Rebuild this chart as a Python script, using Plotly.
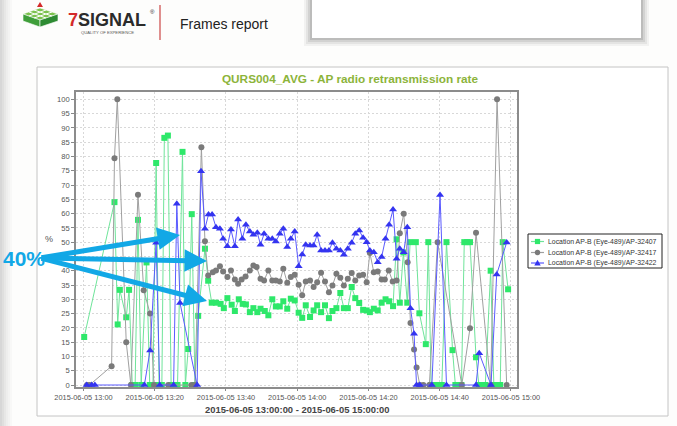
import plotly.graph_objects as go
from datetime import datetime, timedelta

# ---------------- data (minutes after 13:00, retransmission %) ----------------
START = datetime(2015, 6, 5, 13, 0, 0)
SERIES_NAMES = ["Location AP-B (Eye-489)/AP-32407",
                "Location AP-B (Eye-489)/AP-32417",
                "Location AP-B (Eye-489)/AP-32422"]

G_MIN = [0.2, 8.7, 9.6, 10.2, 12.0, 12.8, 13.7, 14.5, 15.3, 16.2, 17.7, 18.6, 19.5, 20.4, 21.2,
         22.0, 22.7, 23.7, 24.6, 25.5, 26.4, 27.8, 28.6, 29.4, 30.4, 31.3, 32.2, 34.1, 35.0, 36.0,
         37.2, 38.5, 39.4, 40.4, 41.6, 42.5, 43.6, 44.7, 45.6, 46.7, 47.7, 48.8, 49.7, 50.9, 51.9,
         53.0, 54.0, 55.1, 56.1, 57.2, 58.2, 59.3, 60.4, 61.4, 62.4, 63.6, 64.6, 65.6, 66.7, 67.8,
         68.9, 69.9, 71.0, 72.1, 73.1, 74.2, 75.3, 76.3, 77.4, 78.5, 79.5, 80.4, 81.5, 82.6, 83.7,
         84.8, 85.8, 86.9, 87.9, 88.8, 89.8, 90.9, 91.7, 93.3, 94.3, 96.1, 96.8, 97.6, 98.6, 99.6,
         100.6, 101.9, 103.6, 104.4, 105.3, 106.1, 106.9, 107.7, 108.5, 110.2, 111.0, 111.9, 112.8,
         114.3, 115.2, 116.1, 117.0, 117.7, 119.2]
G_VAL = [16.8, 64.0, 21.2, 33.3, 23.7, 33.3, 0, 0, 57.8, 0, 42.9, 0, 0, 77.7, 0,
         0, 86.5, 87.3, 0, 0, 0, 81.6, 0, 12.6, 59.8, 0, 24.2, 47.7, 36.5, 28.8,
         28.8, 28.4, 26.9, 30.4, 28.1, 25.9, 30.0, 28.4, 28.2, 25.5, 26.9, 25.5, 26.7, 25.9, 24.4,
         30.0, 27.5, 27.5, 29.3, 26.7, 30.2, 29.6, 25.3, 23.5, 27.9, 23.8, 26.1, 27.9, 25.5, 27.9,
         23.4, 25.9, 26.9, 32.2, 26.9, 26.9, 34.3, 30.4, 28.7, 26.3, 26.1, 25.5, 26.7, 26.1, 28.8,
         30.0, 29.3, 27.6, 51.0, 28.8, 46.4, 28.8, 50.0, 50.0, 25.1, 14.3, 50.0, 0, 0, 0,
         0, 50.0, 12.2, 0, 0, 0, 50.0, 50.0, 50.0, 9.7, 0, 0, 0,
         40.0, 0, 0, 0, 50.0, 33.5]

K_MIN = [1.0, 1.7, 7.9, 8.7, 9.5, 12.0, 13.3, 15.3, 16.9, 18.7, 19.8, 23.8, 30.3, 31.3, 33.1,
         34.1, 35.0, 36.3, 37.2, 38.3, 39.2, 40.4, 41.4, 42.5, 43.4, 44.4, 45.5, 46.7, 47.7, 48.6,
         49.7, 50.7, 51.9, 53.0, 54.0, 55.1, 56.1, 57.2, 58.2, 59.3, 60.4, 61.4, 62.4, 63.6, 64.6,
         65.6, 66.7, 67.8, 68.9, 69.9, 71.0, 72.1, 73.1, 74.2, 75.3, 76.3, 77.4, 78.5, 79.5, 80.4,
         81.5, 82.6, 83.7, 84.6, 85.7, 86.8, 87.9, 88.8, 89.9, 91.0, 91.8, 92.8, 93.5, 94.4, 95.4,
         97.1, 99.4, 106.2, 108.5, 110.2, 114.3, 116.1, 118.8]
K_VAL = [0, 0, 6.6, 79.4, 100, 15.0, 0, 66.6, 33.2, 25.0, 0, 0, 0, 0, 83.2,
         50.3, 38.3, 39.5, 40.1, 41.6, 39.7, 37.8, 40.1, 36.9, 35.4, 36.9, 38.0, 40.1, 41.8, 41.3,
         37.2, 36.6, 40.1, 36.6, 36.6, 36.2, 40.7, 35.8, 37.8, 38.6, 35.1, 31.4, 36.2, 36.6, 34.3,
         36.0, 39.3, 36.2, 32.5, 34.8, 38.9, 37.5, 34.8, 37.2, 39.2, 36.6, 38.3, 38.6, 36.0, 46.2,
         39.5, 39.7, 36.9, 36.9, 40.1, 36.2, 36.6, 53.1, 59.9, 43.0, 21.7, 12.4, 6.1, 0, 0,
         0, 50.0, 0, 19.9, 53.3, 0, 100, 0]

B_MIN = [0.9, 2.3, 3.2, 17.1, 18.7, 20.4, 21.4, 25.3, 26.2, 27.1, 31.9, 33.0, 34.1, 35.1, 36.1,
         37.2, 38.3, 39.2, 40.4, 41.4, 42.5, 43.4, 44.6, 45.6, 46.7, 47.7, 48.8, 49.7, 50.7, 51.9,
         53.0, 54.0, 55.1, 56.1, 57.2, 58.2, 59.3, 60.4, 61.4, 62.4, 63.6, 64.6, 65.6, 66.7, 67.8,
         68.9, 69.9, 71.0, 72.1, 73.1, 74.2, 75.3, 76.3, 77.4, 78.5, 79.5, 80.4, 81.5, 82.6, 83.7,
         84.8, 85.8, 86.9, 87.9, 88.8, 89.9, 90.9, 91.8, 92.8, 93.5, 94.4, 97.8, 100.1, 101.9, 110.2,
         111.1, 114.4, 116.0, 118.8]
B_VAL = [0, 0, 0, 0, 12.1, 49.8, 0, 0, 63.4, 28.7, 0, 74.8, 54.7, 59.7, 59.7,
         55.2, 54.7, 51.2, 48.6, 54.4, 48.6, 57.9, 51.2, 56.1, 53.7, 52.6, 53.3, 49.1, 52.9, 51.2,
         51.2, 50.2, 52.9, 54.7, 48.3, 51.2, 53.7, 41.6, 45.7, 49.1, 48.8, 48.8, 52.6, 47.1, 47.1,
         47.1, 49.8, 47.7, 47.1, 45.6, 47.7, 49.8, 52.9, 54.1, 51.5, 50.0, 47.1, 46.5, 43.0, 44.8,
         51.2, 56.1, 61.4, 44.2, 47.7, 46.5, 55.2, 26.9, 17.9, 0, 0, 0, 66.5, 0, 0,
         11.1, 0, 38.7, 49.9]

Y_TICKS = list(range(0, 101, 5))
X_TICK_MIN = [0, 20, 40, 60, 80, 100, 120]

assert len(G_MIN) == len(G_VAL) and len(K_MIN) == len(K_VAL) and len(B_MIN) == len(B_VAL)


def to_time(mins):
    return [START + timedelta(minutes=m) for m in mins]


# ---------------- geometry helpers ----------------
W, H = 677, 426
L, R, T, B = 76, 517, 92, 387


def fx(p):
    return (p - L) / (R - L)


def fy(p):
    return (B - p) / (B - T)


FONT = "Liberation Sans, Arial, sans-serif"
GREEN_M, GREEN_L = "#2ee86a", "#6fe49a"
GRAY_M, GRAY_L = "#7a7a7a", "#a0a0a0"
BLUE_M, BLUE_L = "#3434f0", "#5a5aff"
CYAN = "#12a8e6"

fig = go.Figure()
specs = [
    (SERIES_NAMES[0], G_MIN, G_VAL, "square", 6, GREEN_M, GREEN_L),
    (SERIES_NAMES[1], K_MIN, K_VAL, "circle", 6, GRAY_M, GRAY_L),
    (SERIES_NAMES[2], B_MIN, B_VAL, "triangle-up", 7, BLUE_M, BLUE_L),
]
for name, mins, vals, sym, size, mc, lc in specs:
    fig.add_trace(go.Scatter(
        x=to_time(mins), y=vals, name=name, mode="lines+markers",
        line=dict(color=lc, width=1),
        marker=dict(symbol=sym, size=size, color=mc, line=dict(width=0)),
        cliponaxis=False, showlegend=False))

shapes = []
# left edge shading of the screenshot
for i, op in enumerate([0.28, 0.22, 0.16, 0.11, 0.07, 0.04]):
    shapes.append(dict(type="rect", xref="paper", yref="paper", layer="below",
                       x0=fx(2 * i), x1=fx(2 * i + 2), y0=fy(426), y1=fy(0),
                       fillcolor=f"rgba(120,120,120,{op})", line=dict(width=0)))
# top-right window with shadow
for d, op in [(8, 0.06), (6, 0.08), (4, 0.1), (2, 0.14)]:
    shapes.append(dict(type="rect", xref="paper", yref="paper", layer="below",
                       x0=fx(312 - d), x1=fx(641 + d), y0=fy(38 + d), y1=fy(0),
                       fillcolor=f"rgba(60,60,60,{op})", line=dict(width=0)))
shapes.append(dict(type="rect", xref="paper", yref="paper", layer="below",
                   x0=fx(312), x1=fx(641), y0=fy(38), y1=fy(0),
                   fillcolor="#ffffff", line=dict(width=0)))
# chart panel
shapes.append(dict(type="rect", xref="paper", yref="paper", layer="below",
                   x0=fx(37), x1=fx(668), y0=fy(416), y1=fy(67),
                   fillcolor="#ffffff", line=dict(color="#c4c4c4", width=1)))


def path(pts):
    return "M " + " L ".join(f"{fx(a):.5f},{fy(b):.5f}" for a, b in pts) + " Z"


# logo: isometric cube block
shapes.append(dict(type="path", xref="paper", yref="paper", path=path([(23, 14), (40, 8), (58, 14), (40, 20)]),
                   fillcolor="#7cc24e", line=dict(color="#ffffff", width=0.6)))
shapes.append(dict(type="path", xref="paper", yref="paper", path=path([(23, 14), (40, 20), (40, 27), (23, 21)]),
                   fillcolor="#3f9e3a", line=dict(color="#ffffff", width=0.6)))
shapes.append(dict(type="path", xref="paper", yref="paper", path=path([(40, 20), (58, 14), (58, 21), (40, 27)]),
                   fillcolor="#2e8b33", line=dict(color="#ffffff", width=0.6)))
for (a0, b0), (a1, b1) in [((29, 16), (46, 10)), ((34, 18), (52, 12)), ((29, 12), (46, 18)), ((34, 10), (52, 16))]:
    shapes.append(dict(type="line", xref="paper", yref="paper", x0=fx(a0), y0=fy(b0), x1=fx(a1), y1=fy(b1),
                       line=dict(color="#ffffff", width=1)))
shapes.append(dict(type="path", xref="paper", yref="paper", path=path([(37, 7), (40, 2), (43, 7)]),
                   fillcolor="#d42a2a", line=dict(width=0)))
# red separator
shapes.append(dict(type="line", xref="paper", yref="paper", x0=fx(160), x1=fx(160), y0=fy(5), y1=fy(40),
                   line=dict(color="#d46a6a", width=1.5)))

# manual legend box
LEG_X0, LEG_Y0, LEG_X1, LEG_Y1 = 528, 234, 662, 268
shapes.append(dict(type="rect", xref="paper", yref="paper",
                   x0=fx(LEG_X0), x1=fx(LEG_X1), y0=fy(LEG_Y1), y1=fy(LEG_Y0),
                   fillcolor="#ffffff", line=dict(color="#222222", width=1)))
annotations = []
leg_rows = [241.5, 252.5, 263.0]
for (name, _, _, sym, _, mc, lc), yy in zip(specs, leg_rows):
    shapes.append(dict(type="line", xref="paper", yref="paper", x0=fx(531), x1=fx(544), y0=fy(yy), y1=fy(yy),
                       line=dict(color=lc, width=1.2)))
    cx = 537.5
    if sym == "square":
        shapes.append(dict(type="rect", xref="paper", yref="paper", x0=fx(cx - 2.6), x1=fx(cx + 2.6),
                           y0=fy(yy + 2.6), y1=fy(yy - 2.6), fillcolor=mc, line=dict(width=0)))
    elif sym == "circle":
        shapes.append(dict(type="circle", xref="paper", yref="paper", x0=fx(cx - 2.7), x1=fx(cx + 2.7),
                           y0=fy(yy + 2.7), y1=fy(yy - 2.7), fillcolor=mc, line=dict(width=0)))
    else:
        shapes.append(dict(type="path", xref="paper", yref="paper",
                           path=path([(cx - 3.2, yy + 2.6), (cx, yy - 3.2), (cx + 3.2, yy + 2.6)]),
                           fillcolor=mc, line=dict(width=0)))
    annotations.append(dict(xref="paper", yref="paper", x=fx(546), y=fy(yy), xanchor="left", yanchor="middle",
                            text=name, showarrow=False, font=dict(family=FONT, size=6.9, color="#333333")))

# y axis unit label
annotations.append(dict(xref="paper", yref="paper", x=fx(49), y=fy(239), text="%", showarrow=False,
                        xanchor="center", yanchor="middle", font=dict(family=FONT, size=9, color="#555555")))

# header texts
annotations.append(dict(xref="paper", yref="paper", x=fx(66), y=fy(19.5), xanchor="left", yanchor="middle",
                        text="<b><span style='color:#d42a2a'>7</span>SIGNAL</b>", showarrow=False,
                        font=dict(family=FONT, size=18, color="#2b2b2b")))
annotations.append(dict(xref="paper", yref="paper", x=fx(148), y=fy(12), xanchor="left", yanchor="middle",
                        text="®", showarrow=False, font=dict(family=FONT, size=6, color="#2b2b2b")))
annotations.append(dict(xref="paper", yref="paper", x=fx(107), y=fy(32), xanchor="center", yanchor="middle",
                        text="QUALITY OF EXPERIENCE", showarrow=False,
                        font=dict(family=FONT, size=4.2, color="#555555")))
annotations.append(dict(xref="paper", yref="paper", x=fx(178), y=fy(24), xanchor="left", yanchor="middle",
                        text="Frames report", showarrow=False,
                        font=dict(family=FONT, size=14, color="#222222")))

# x axis title
annotations.append(dict(xref="paper", yref="paper", x=fx(297), y=fy(409), xanchor="center", yanchor="middle",
                        text="<b>2015-06-05 13:00:00 - 2015-06-05 15:00:00</b>", showarrow=False,
                        font=dict(family=FONT, size=9.4, color="#444444")))

# callout text + arrows
annotations.append(dict(xref="paper", yref="paper", x=fx(1), y=fy(258), xanchor="left", yanchor="middle",
                        text="<b>40%</b>", showarrow=False, font=dict(family=FONT, size=21, color=CYAN)))
tail = (40, 258)
for tip in [(180, 235), (207, 261), (207, 301)]:
    annotations.append(dict(xref="paper", yref="paper", x=fx(tip[0]), y=fy(tip[1]),
                            ax=tail[0] - tip[0], ay=tail[1] - tip[1], axref="pixel", ayref="pixel",
                            text="", showarrow=True, arrowhead=2, arrowsize=0.9, arrowwidth=5,
                            arrowcolor=CYAN, standoff=0, startstandoff=0))

fig.update_layout(
    width=W, height=H, autosize=False,
    margin=dict(l=L, r=W - R, t=T, b=H - B, pad=0),
    paper_bgcolor="#fdfdfc", plot_bgcolor="#ffffff",
    font=dict(family=FONT, size=8, color="#555555"),
    title=dict(text="<b>QURS004_AVG - AP radio retransmission rate</b>",
               x=350 / W, xanchor="center", xref="container",
               y=1 - 79 / H, yanchor="middle", yref="container",
               font=dict(family=FONT, size=11.8, color="#8cb43a")),
    shapes=shapes, annotations=annotations, showlegend=False,
)
fig.update_xaxes(
    type="date",
    range=[START + timedelta(minutes=-2.1), START + timedelta(minutes=121.7)],
    tickvals=to_time(X_TICK_MIN), tickformat="%Y-%m-%d %H:%M",
    tickfont=dict(family=FONT, size=7.4, color="#555555"),
    ticks="outside", ticklen=2, tickcolor="#888888",
    showgrid=True, gridcolor="#d8d8d8", gridwidth=1, griddash="2px,2px",
    showline=True, linecolor="#8c8c8c", linewidth=1.5, mirror=True, zeroline=False,
)
fig.update_yaxes(
    range=[-0.7, 102.55], tickvals=Y_TICKS,
    tickfont=dict(family=FONT, size=7.6, color="#555555"),
    ticks="outside", ticklen=3, tickcolor="#888888",
    showgrid=True, gridcolor="#d8d8d8", gridwidth=1, griddash="2px,2px",
    showline=True, linecolor="#8c8c8c", linewidth=1.5, mirror=True, zeroline=False,
)

fig.write_html("out.html", config={"displayModeBar": False},
               post_script="document.body.style.margin='0';document.body.style.padding='0';"
                           "document.body.style.overflow='hidden';")
